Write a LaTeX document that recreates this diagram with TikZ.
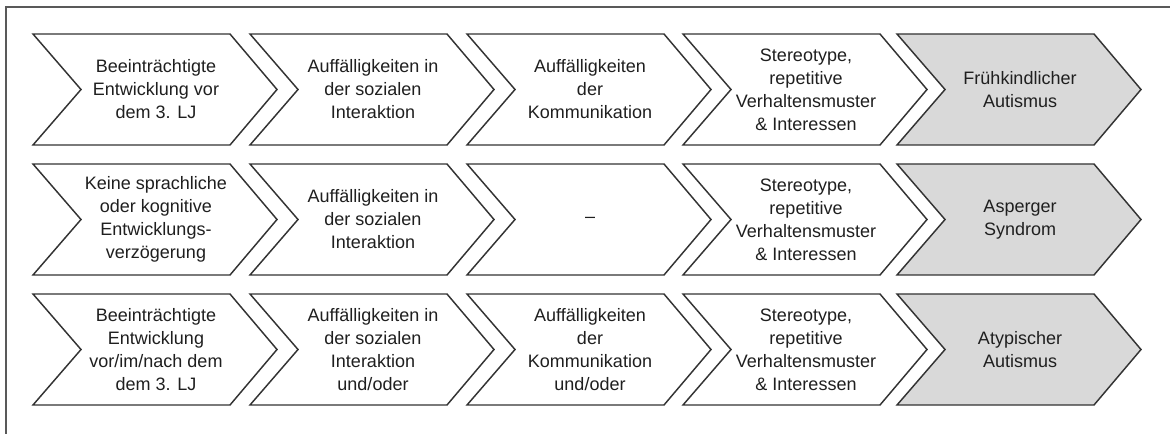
\documentclass[tikz,border=0pt]{standalone}
\usepackage{fontspec}
\setmainfont{Liberation Sans}
\tikzset{
  chevbox/.style={draw=black!80, line width=1.1pt, line join=miter},
  chevtext/.style={align=center, text=black!88, inner sep=0pt, font=\fontsize{13.5}{17.25}\selectfont},
  frameline/.style={draw=black!65, line width=1.4pt}
}
% #1 left x, #2 center y, #3 fill, #4 name, #5 text
\newcommand\mychev[5]{%
  \path[chevbox, fill=#3] (#1,#2-55.5) -- ++(197,0) -- ++(47,55.5) -- ++(-47,55.5) -- ++(-197,0) -- ++(48,-55.5) -- cycle;
  \node[chevtext] (#4) at (#1+123,#2) {#5};
}
\begin{document}
\begin{tikzpicture}[x=0.75pt,y=-0.75pt]
\useasboundingbox (0,0) rectangle (1170,434);
\coordinate (ftop) at (6,7);
\coordinate (fright) at (1170,7);
\coordinate (fbot) at (6,434);
\draw[frameline] (fright) -- (ftop) -- (fbot);
% row 1
\mychev{33}{89.5}{white}{a1}{Beeinträchtigte\\Entwicklung vor\\dem 3. LJ}
\mychev{250}{89.5}{white}{a2}{Auffälligkeiten in\\der sozialen\\Interaktion}
\mychev{467}{89.5}{white}{a3}{Auffälligkeiten\\der\\Kommunikation}
\mychev{683}{89.5}{white}{a4}{Stereotype,\\repetitive\\Verhaltensmuster\\\& Interessen}
\mychev{897}{89.5}{black!15}{a5}{Frühkindlicher\\Autismus}
% row 2
\mychev{33}{219.5}{white}{b1}{Keine sprachliche\\oder kognitive\\Entwicklungs-\\verzögerung}
\mychev{250}{219.5}{white}{b2}{Auffälligkeiten in\\der sozialen\\Interaktion}
\mychev{467}{219.5}{white}{b3}{–}
\mychev{683}{219.5}{white}{b4}{Stereotype,\\repetitive\\Verhaltensmuster\\\& Interessen}
\mychev{897}{219.5}{black!15}{b5}{Asperger\\Syndrom}
% row 3
\mychev{33}{349.5}{white}{c1}{Beeinträchtigte\\Entwicklung\\vor/im/nach dem\\dem 3. LJ}
\mychev{250}{349.5}{white}{c2}{Auffälligkeiten in\\der sozialen\\Interaktion\\und/oder}
\mychev{467}{349.5}{white}{c3}{Auffälligkeiten\\der\\Kommunikation\\und/oder}
\mychev{683}{349.5}{white}{c4}{Stereotype,\\repetitive\\Verhaltensmuster\\\& Interessen}
\mychev{897}{349.5}{black!15}{c5}{Atypischer\\Autismus}
\end{tikzpicture}
\end{document}
